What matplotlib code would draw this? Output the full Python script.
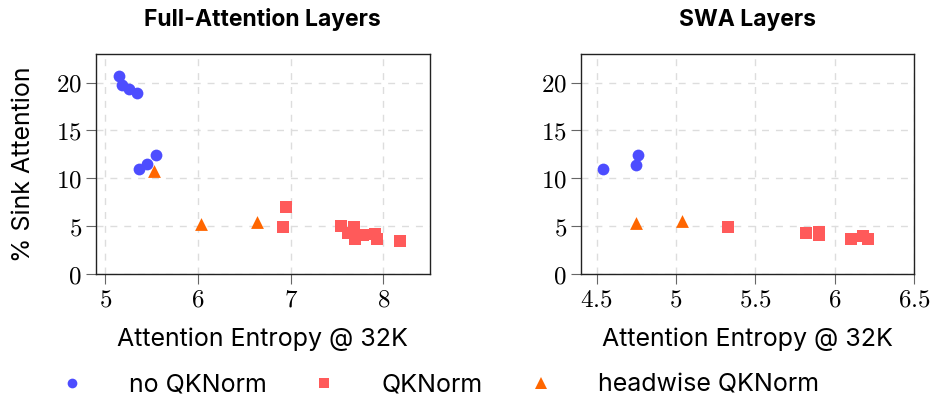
import matplotlib
matplotlib.use("Agg")
import matplotlib.pyplot as plt
from matplotlib.lines import Line2D

plt.rcParams["font.family"] = ["Inter", "DejaVu Sans"]
plt.rcParams["mathtext.fontset"] = "cm"

# Full-attention layers
full_noqk_x = [5.15, 5.18, 5.26, 5.34, 5.36, 5.45, 5.55]
full_noqk_y = [20.7, 19.7, 19.3, 18.9, 11.0, 11.5, 12.4]
full_qk_x = [6.95, 6.92, 7.54, 7.68, 7.62, 7.69, 7.78, 7.91, 7.93, 8.18]
full_qk_y = [7.0, 4.9, 5.0, 4.95, 4.25, 3.7, 4.07, 4.15, 3.7, 3.5]
full_head_x = [5.52, 6.03, 6.64]
full_head_y = [10.8, 5.25, 5.45]

# Sliding-window attention layers
swa_noqk_x = [4.54, 4.76, 4.75]
swa_noqk_y = [10.96, 12.4, 11.4]
swa_qk_x = [5.33, 5.82, 5.90, 5.90, 6.10, 6.18, 6.21]
swa_qk_y = [4.94, 4.25, 4.35, 4.1, 3.62, 3.97, 3.62]
swa_head_x = [4.75, 5.04]
swa_head_y = [5.3, 5.5]

full_xticks = [5, 6, 7, 8]
swa_xticks = [4.5, 5, 5.5, 6, 6.5]
yticks = [0, 5, 10, 15, 20]

c_blue = "#4d4dff"
c_red = "#ff5a5a"
c_orange = "#ff6600"

fig = plt.figure(figsize=(9.33, 3.99), dpi=100)
ax1 = fig.add_axes([0.1026, 0.313, 0.358, 0.552])
ax2 = fig.add_axes([0.6224, 0.313, 0.3575, 0.552])


def style(ax, xticks, xlim, title):
    ax.set_xlim(*xlim)
    ax.set_ylim(0, 23)
    ax.set_xticks(xticks)
    ax.set_xticklabels([f"${t:g}$" for t in xticks], fontsize=18)
    ax.set_yticks(yticks)
    ax.set_yticklabels([f"${t}$" for t in yticks], fontsize=18)
    ax.grid(True, color="#dddddd", linestyle=(0, (5, 5)), linewidth=1.0)
    ax.set_axisbelow(True)
    ax.tick_params(direction="out", length=7, width=0.8, color="#666666", pad=3)
    for s in ax.spines.values():
        s.set_linewidth(1.0)
        s.set_color("#222222")
    ax.set_xlabel("Attention Entropy @ 32K", fontsize=18, labelpad=12)
    ax.set_title(title, fontsize=16.5, fontweight="bold", pad=20)


def draw(ax, nx, ny, qx, qy, hx, hy):
    ax.scatter(nx, ny, s=72, marker="o", color=c_blue, linewidths=0, zorder=3)
    ax.scatter(qx, qy, s=80, marker="s", color=c_red, linewidths=0, zorder=3)
    ax.scatter(hx, hy, s=85, marker="^", color=c_orange, linewidths=0, zorder=4)


draw(ax1, full_noqk_x, full_noqk_y, full_qk_x, full_qk_y, full_head_x, full_head_y)
draw(ax2, swa_noqk_x, swa_noqk_y, swa_qk_x, swa_qk_y, swa_head_x, swa_head_y)
style(ax1, full_xticks, (4.896, 8.5), "Full-Attention Layers")
style(ax2, swa_xticks, (4.40, 6.5), "SWA Layers")
ax1.set_ylabel("% Sink Attention", fontsize=18, labelpad=15)

handles = [
    Line2D([], [], marker="o", linestyle="none", color=c_blue, markersize=7, markeredgewidth=0),
    Line2D([], [], marker="s", linestyle="none", color=c_red, markersize=7.5, markeredgewidth=0),
    Line2D([], [], marker="^", linestyle="none", color=c_orange, markersize=8, markeredgewidth=0),
]
fig.legend(handles, ["no QKNorm", "QKNorm", "headwise QKNorm"], loc="center",
           bbox_to_anchor=(0.464, 0.035), ncol=3, frameon=False, fontsize=18,
           handletextpad=1.3, columnspacing=1.3)

fig.savefig("out.png", dpi=100)
